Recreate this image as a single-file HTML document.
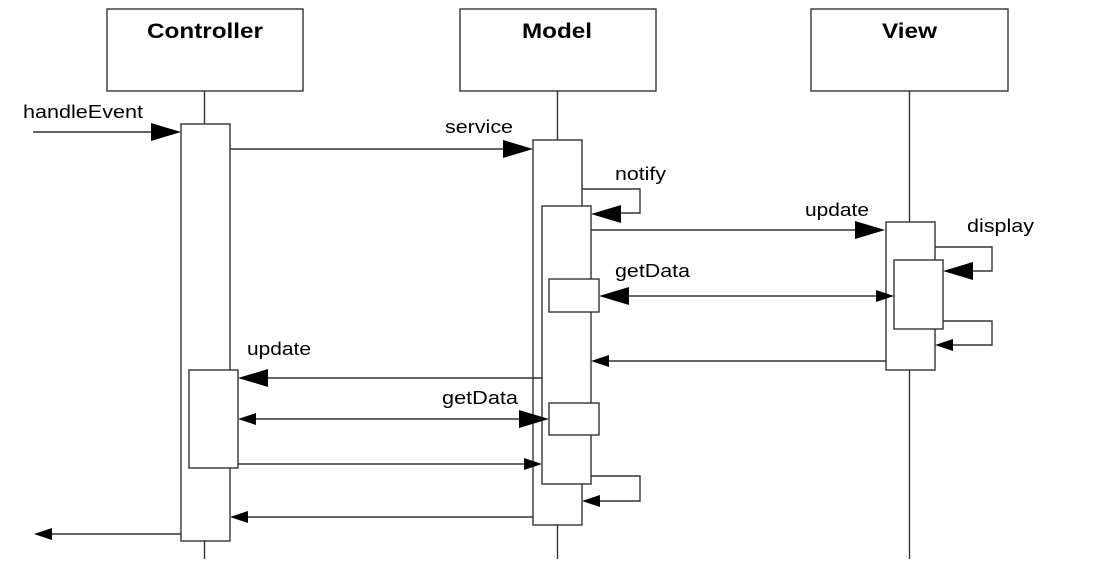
<!DOCTYPE html>
<html><head><meta charset="utf-8"><style>
html,body{margin:0;padding:0;background:#fff;}
svg{display:block;}
text{font-family:"Liberation Sans",sans-serif;fill:#000;}
</style></head><body>
<svg width="1097" height="572" viewBox="0 0 1097 572" xmlns="http://www.w3.org/2000/svg">
<g stroke="#333" stroke-width="1.4" fill="#fff">
<!-- lifelines -->
<line x1="204.5" y1="91" x2="204.5" y2="559"/>
<line x1="557.5" y1="91" x2="557.5" y2="559"/>
<line x1="909.5" y1="91" x2="909.5" y2="559"/>
<!-- header boxes -->
<rect x="107" y="9" width="196" height="82"/>
<rect x="460" y="9" width="196" height="82"/>
<rect x="811" y="9" width="197" height="82"/>
<!-- activations -->
<rect x="181" y="124" width="49" height="417"/>
<rect x="189" y="370" width="49" height="98"/>
<rect x="533" y="140" width="49" height="385"/>
<rect x="542" y="206" width="49" height="278"/>
<rect x="549" y="279" width="50" height="33"/>
<rect x="549" y="403" width="50" height="32"/>
<rect x="886" y="222" width="49" height="148"/>
<rect x="894" y="260" width="49" height="69"/>
<!-- lines -->
<g fill="none">
<line x1="33" y1="132" x2="160" y2="132"/>
<line x1="230" y1="149" x2="510" y2="149"/>
<polyline points="582,189 640,189 640,213 615,213"/>
<line x1="591" y1="230" x2="860" y2="230"/>
<polyline points="935,247 992,247 992,271 970,271"/>
<line x1="620" y1="296" x2="880" y2="296"/>
<polyline points="943,321 992,321 992,345 950,345"/>
<line x1="886" y1="361" x2="605" y2="361"/>
<line x1="542" y1="378" x2="265" y2="378"/>
<line x1="252" y1="419" x2="525" y2="419"/>
<line x1="238" y1="464" x2="528" y2="464"/>
<polyline points="591,476 640,476 640,501 600,501"/>
<line x1="533" y1="517" x2="245" y2="517"/>
<line x1="181" y1="534" x2="50" y2="534"/>
</g>
</g>
<g fill="#000" stroke="none">
<!-- big heads -->
<polygon points="181,132 151,123 151,141"/>
<polygon points="533,149 503,140 503,158"/>
<polygon points="591,214 621,205 621,223"/>
<polygon points="885,230 855,221 855,239"/>
<polygon points="943,271 973,262 973,280"/>
<polygon points="599,296 629,287 629,305"/>
<polygon points="238,378 268,369 268,387"/>
<polygon points="549,419 519,410 519,428"/>
<!-- small heads -->
<polygon points="894,296 876,290 876,302"/>
<polygon points="935,345 953,339 953,351"/>
<polygon points="591,361 609,355 609,367"/>
<polygon points="238,419 256,413 256,425"/>
<polygon points="542,464 524,458 524,470"/>
<polygon points="582,501 600,495 600,507"/>
<polygon points="230,517 248,511 248,523"/>
<polygon points="34,534 52,528 52,540"/>
</g>
<g font-size="21" font-weight="bold">
<text x="147" y="38" textLength="116" lengthAdjust="spacingAndGlyphs">Controller</text>
<text x="522" y="38" textLength="70" lengthAdjust="spacingAndGlyphs">Model</text>
<text x="882" y="38" textLength="55" lengthAdjust="spacingAndGlyphs">View</text>
</g>
<g font-size="18">
<text x="23" y="118" textLength="120" lengthAdjust="spacingAndGlyphs">handleEvent</text>
<text x="445" y="133" textLength="68" lengthAdjust="spacingAndGlyphs">service</text>
<text x="615" y="180" textLength="51" lengthAdjust="spacingAndGlyphs">notify</text>
<text x="805" y="216" textLength="64" lengthAdjust="spacingAndGlyphs">update</text>
<text x="967" y="232" textLength="67" lengthAdjust="spacingAndGlyphs">display</text>
<text x="615" y="277" textLength="75" lengthAdjust="spacingAndGlyphs">getData</text>
<text x="247" y="355" textLength="64" lengthAdjust="spacingAndGlyphs">update</text>
<text x="442" y="404" textLength="76" lengthAdjust="spacingAndGlyphs">getData</text>
</g>
</svg>
</body></html>
